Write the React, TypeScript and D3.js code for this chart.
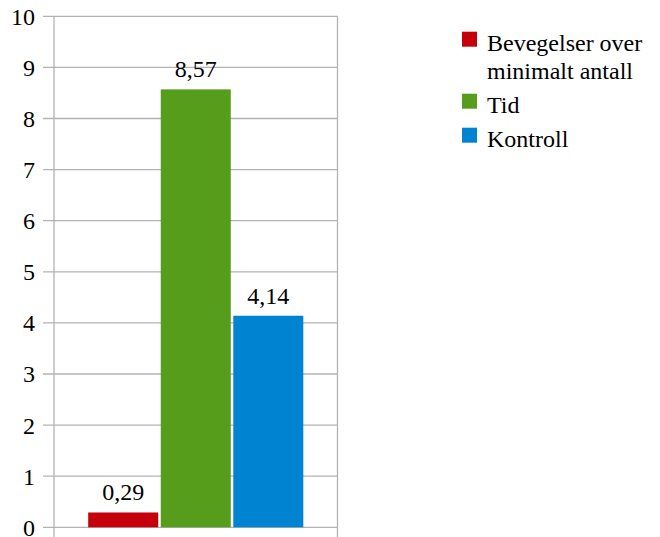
import React from "react";
import * as d3 from "d3";

const categories = ["Bevegelser over minimalt antall", "Tid", "Kontroll"];
const legendLines = [["Bevegelser over", "minimalt antall"], ["Tid"], ["Kontroll"]];
const values = [0.29, 8.57, 4.14];
const valueLabels = ["0,29", "8,57", "4,14"];
const colors = ["#c5000b", "#579d1c", "#0084d1"];
const yTicks = [0, 1, 2, 3, 4, 5, 6, 7, 8, 9, 10];

const W = 660;
const H = 537;
const plot = { left: 54, right: 337.5, top: 16.3, bottom: 527.3 };
const FONT = "Liberation Serif";
const grid = "#b3b3b3";

export default function App() {
  const y = d3.scaleLinear().domain([0, 10]).range([plot.bottom, plot.top]);
  const group = d3.scaleBand().domain(["g"]).range([plot.left, plot.right]).paddingInner(0).paddingOuter(0.159);
  const x = d3
    .scaleBand()
    .domain(categories)
    .range([group("g")!, group("g")! + group.bandwidth()])
    .paddingInner(0.035);

  return (
    <svg
      id="chart"
      width={W}
      height={H}
      fontFamily={FONT}
      style={{ position: "absolute", left: 0, top: 0, background: "#fff", fontFamily: FONT }}
    >
      <style>{`#chart text.lbl { font-family: "Liberation Serif", serif !important; }`}</style>
      {yTicks.map((t) => (
        <g key={t}>
          <line x1={43} x2={plot.right} y1={y(t)} y2={y(t)} stroke={grid} strokeWidth={1.3} />
          <text className="lbl" x={35} y={y(t)} dy="0.35em" textAnchor="end" fontSize={24} fill="#000">
            {t}
          </text>
        </g>
      ))}
      <line x1={plot.left} x2={plot.left} y1={plot.top} y2={H} stroke={grid} strokeWidth={1.3} />
      <line x1={plot.right} x2={plot.right} y1={plot.top} y2={H} stroke={grid} strokeWidth={1.3} />
      {categories.map((c, i) => (
        <g key={c}>
          <rect
            x={x(c)}
            y={y(values[i])}
            width={x.bandwidth()}
            height={y(0) - y(values[i])}
            fill={colors[i]}
          />
          <text
            className="lbl"
            x={x(c)! + x.bandwidth() / 2}
            y={y(values[i]) - 12}
            textAnchor="middle"
            fontSize={24}
            fill="#000"
          >
            {valueLabels[i]}
          </text>
        </g>
      ))}
      {legendLines.map((lines, i) => {
        const base = [50.7, 112.7, 146.7][i];
        return (
          <g key={i}>
            <rect x={462} y={base - 19} width={15} height={15} fill={colors[i]} />
            {lines.map((l, j) => (
              <text className="lbl" key={j} x={487} y={base + j * 28.6} fontSize={24} fill="#000">
                {l}
              </text>
            ))}
          </g>
        );
      })}
    </svg>
  );
}
